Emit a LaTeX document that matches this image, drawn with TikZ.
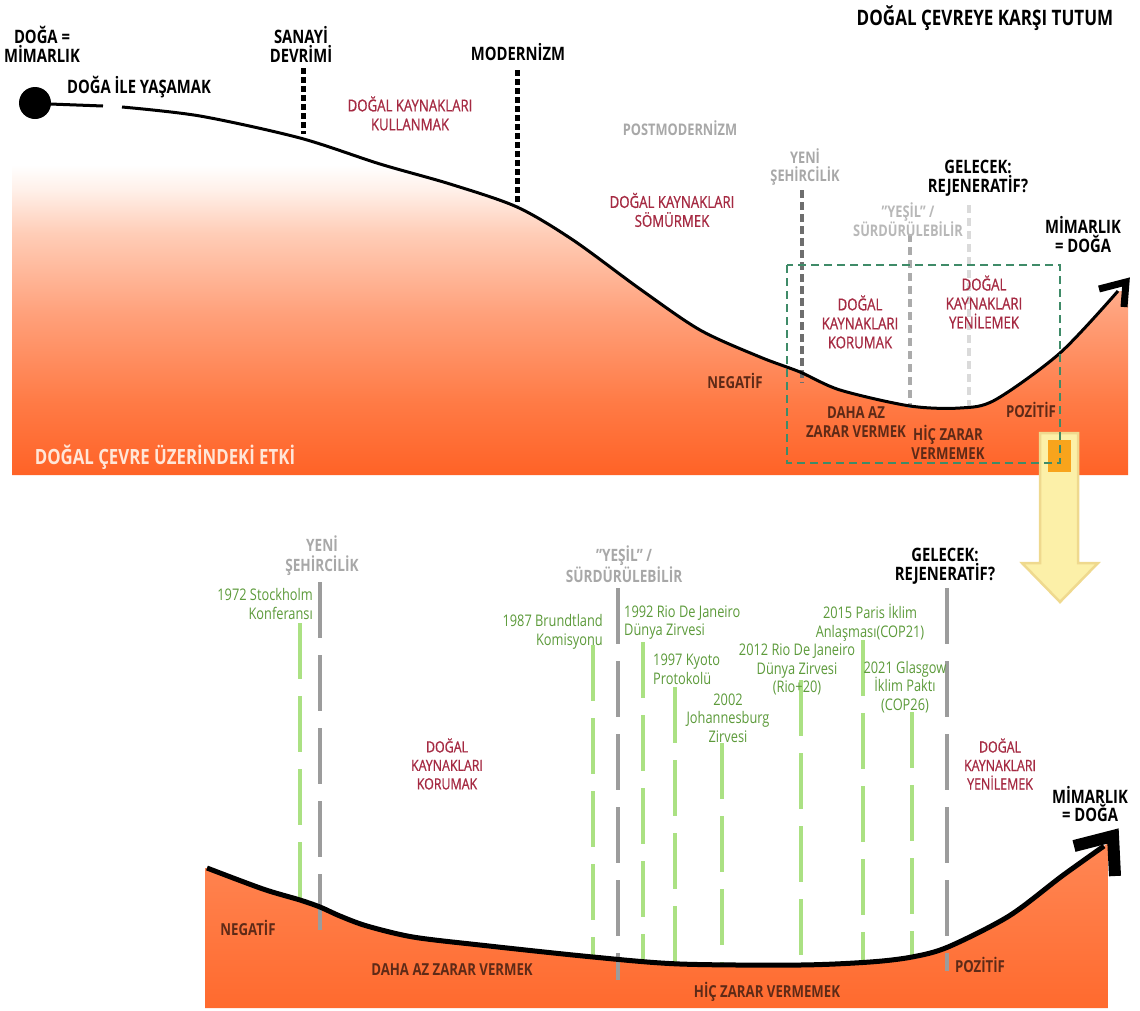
\documentclass[tikz,border=0pt]{standalone}
\usepackage{fontspec}
\setmainfont[FakeStretch=0.8]{Open Sans}
\newfontfamily\semib[FakeStretch=0.8,FakeBold=0.8]{Open Sans}
\usetikzlibrary{calc}
\definecolor{redt}{HTML}{A52A42}
\definecolor{greyt}{HTML}{A8A8A8}
\definecolor{greyl}{HTML}{B8B8B8}
\definecolor{greent}{HTML}{5C9A3A}
\definecolor{greenl}{HTML}{ABE183}
\definecolor{brownt}{HTML}{5E2A17}
\definecolor{boxg}{HTML}{3F8B68}
\definecolor{or1}{HTML}{FF6226}
\definecolor{or2}{HTML}{FF7B46}
\definecolor{or3}{HTML}{FFA07A}
\definecolor{or4}{HTML}{FFCDB7}
\definecolor{or5}{HTML}{FFF0E9}
\definecolor{obot}{HTML}{FF6A2E}
\definecolor{otop}{HTML}{FF8755}
\definecolor{ylfill}{HTML}{FCF0A8}
\definecolor{yldraw}{HTML}{EFD98E}
\definecolor{ylin}{HTML}{F8A41C}
\definecolor{dgrey}{HTML}{6E6E6E}
\definecolor{mgrey}{HTML}{9C9C9C}
\definecolor{lgrey}{HTML}{DADADA}
\definecolor{etkit}{HTML}{FFE6D8}
\pgfdeclareverticalshading{topfade}{100bp}{color(0bp)=(or1); color(25bp)=(or1); color(37bp)=(or2); color(51bp)=(or3); color(64bp)=(or4); color(71bp)=(or5); color(75bp)=(white); color(100bp)=(white)}
\newcommand\fz[2]{\fontsize{#1}{#2}\selectfont}
\begin{document}
\begin{tikzpicture}[x=1pt,y=-1pt,
  every node/.style={inner sep=0pt, align=center},
  blk/.style={font=\bfseries\fz{18.5}{19}, text=black},
  redl/.style={font=\semib\fz{16.5}{19}, text=redt},
  greyb/.style={font=\bfseries\fz{16}{18}, text=greyt},
  grn/.style={font=\fz{16}{18.7}, text=greent},
  brn/.style={font=\bfseries\fz{16.5}{19}, text=brownt},
  dotblk/.style={line width=5pt, dash pattern=on 5.5pt off 3.5pt},
  gdash/.style={line width=4.5pt, mgrey, dash pattern=on 56pt off 17pt},
  grline/.style={line width=3.5pt, greenl, dash pattern=on 56pt off 17pt},
  crv/.style={line width=3pt, line join=round},
  chev/.style={line width=7pt, miter limit=10},
]
\useasboundingbox (0,0) rectangle (1140,1010);

% ================= TOP PANEL =================
\begin{scope}
\clip (12,107) -- plot[smooth] coordinates {(122,107) (200,116) (300,138) (380,164) (450,184) (517,207) (573,240) (640,289) (700,330) (760,357) (800,372) (840,390) (910,406) (960,408) (995,400) (1060,353) (1118,291)} -- (1128,291) -- (1128,475) -- (12,475) -- cycle;
\shade[shading=topfade] (10,165) rectangle (1130,476);
\end{scope}

% vertical markers (top)
\coordinate (sA) at (303,68);  \coordinate (sB) at (303,134);
\coordinate (mA) at (517,70);  \coordinate (mB) at (517,205);
\coordinate (yA) at (802,190); \coordinate (yB) at (802,383);
\coordinate (gA) at (910,234); \coordinate (gB) at (910,408);
\coordinate (fA) at (969,205); \coordinate (fB) at (969,406);
\draw[dotblk] (sA) -- (sB);
\draw[dotblk] (mA) -- (mB);
\draw[dgrey, line width=4pt, dash pattern=on 8pt off 4pt] (yA) -- (yB);
\draw[mgrey!85, line width=3.5pt, dash pattern=on 8pt off 5pt] (gA) -- (gB);
\draw[lgrey, line width=3.5pt, dash pattern=on 8pt off 5pt] (fA) -- (fB);

% curve (top)
\fill (35,103) circle (16);
\coordinate (d0) at (50,104); \coordinate (d1) at (103,106);
\draw[crv] (d0) -- (d1);
\draw[crv] plot[smooth] coordinates {(122,107) (200,116) (300,138) (380,164) (450,184) (517,207) (573,240) (640,289) (700,330) (760,357) (800,372) (840,390) (910,406) (960,408) (995,400) (1060,353) (1118,291)};
\draw[chev] (1099,289) -- (1126,282) -- (1124,307);

% yellow arrow
\filldraw[fill=ylfill, draw=yldraw, line width=2.5pt] (1040,433) -- (1040,563) -- (1022,563) -- (1060,602) -- (1098,563) -- (1078,563) -- (1078,433) -- cycle;
\fill[ylin] (1048,440) rectangle (1071,472);

% green dashed box
\draw[boxg, line width=2.5pt, dash pattern=on 8pt off 5pt] (787,265) rectangle (1060,463);

% top labels
\node[blk] (t_dm) at (42,44.5) {DOĞA =\\MİMARLIK};
\node[blk] (t_yasam) at (139,87) {DOĞA İLE YAŞAMAK};
\node[blk] (t_sanayi) at (301,44.5) {SANAYİ\\DEVRİMİ};
\node[redl] (t_kull) at (410,113.5) {DOĞAL KAYNAKLARI\\KULLANMAK};
\node[blk] (t_mod) at (518,52) {MODERNİZM};
\node[greyb] (t_post) at (680,128) {POSTMODERNİZM};
\node[redl] (t_som) at (672,210) {DOĞAL KAYNAKLARI\\SÖMÜRMEK};
\node[blk, font=\bfseries\fz{21.3}{22}] (t_title) at (985,18) {DOĞAL ÇEVREYE KARŞI TUTUM};
\node[greyb] (t_yeni) at (805,167) {YENİ\\ŞEHİRCİLİK};
\node[blk] (t_gel) at (978,178) {GELECEK:\\REJENERATİF?};
\node[greyb, text=greyl] (t_yesil) at (908,219.5) {"YEŞİL" /\\SÜRDÜRÜLEBİLİR};
\node[blk] (t_mim) at (1083,235) {MİMARLIK\\= DOĞA};
\node[redl] (t_kor) at (860,322) {DOĞAL\\KAYNAKLARI\\KORUMAK};
\node[redl] (t_yen) at (984,302) {DOĞAL\\KAYNAKLARI\\YENİLEMEK};
\node[brn] (t_neg) at (735,381) {NEGATİF};
\node[brn] (t_daha) at (856,422.5) {DAHA AZ\\ZARAR VERMEK};
\node[brn] (t_hic) at (948,442) {HİÇ ZARAR\\VERMEMEK};
\node[brn] (t_poz) at (1031,410) {POZİTİF};
\node[font=\bfseries\fz{21}{22}, text=etkit] (t_etki) at (165,457) {DOĞAL ÇEVRE ÜZERİNDEKİ ETKİ};

% ================= BOTTOM PANEL =================
\shade[top color=otop, bottom color=obot] (205,868) -- plot[smooth] coordinates {(207,868) (263,889) (300,900) (320,907) (340,916) (367,926) (413,937) (480,945) (593,957) (680,964) (800,965) (870,962) (912,957) (948,947) (1009,916) (1062,876) (1104,846)} -- (1108,843) -- (1108,1008) -- (205,1008) -- cycle;

% gray era lines
\coordinate (g1a) at (320,582); \coordinate (g1b) at (320,932);
\coordinate (g2a) at (618,588); \coordinate (g2b) at (618,980);
\coordinate (g3a) at (947,588); \coordinate (g3b) at (947,971);
\draw[gdash] (g1a) -- (g1b);
\draw[gdash] (g2a) -- (g2b);
\draw[gdash] (g3a) -- (g3b);

% green event lines
\coordinate (e1a) at (300,623); \coordinate (e1b) at (300,900);
\coordinate (e2a) at (593,645); \coordinate (e2b) at (593,957);
\coordinate (e3a) at (643,642); \coordinate (e3b) at (643,960);
\coordinate (e4a) at (675,687); \coordinate (e4b) at (675,963);
\coordinate (e5a) at (722,743); \coordinate (e5b) at (722,964);
\coordinate (e6a) at (801,680); \coordinate (e6b) at (801,965);
\coordinate (e7a) at (863,640); \coordinate (e7b) at (863,961);
\coordinate (e8a) at (912,712); \coordinate (e8b) at (912,957);
\foreach \i in {1,...,8} {\draw[grline] (e\i a) -- (e\i b);}

% curve (bottom)
\draw[crv, line width=5pt] plot[smooth] coordinates {(207,868) (263,889) (300,900) (320,907) (340,916) (367,926) (413,937) (480,945) (593,957) (680,964) (800,965) (870,962) (912,957) (948,947) (1009,916) (1062,876) (1104,846)};
\draw[chev, line width=12pt] (1074,846) -- (1113,836) -- (1115,876);

% bottom labels
\node[greyb, font=\bfseries\fz{17}{20}] (b_yeni) at (322,556) {YENİ\\ŞEHİRCİLİK};
\node[greyb, font=\bfseries\fz{17}{18}] (b_yesil) at (624,564) {"YEŞİL" /\\SÜRDÜRÜLEBİLİR};
\node[blk] (b_gel) at (945,566) {GELECEK:\\REJENERATİF?};
\node[grn, align=right, anchor=east] (b_1972) at (313,604) {1972 Stockholm\\Konferansı};
\node[grn, align=right, anchor=east] (b_1987) at (603,631.5) {1987 Brundtland\\Komisyonu};
\node[grn, align=left, anchor=west] (b_1992) at (624,622.5) {1992 Rio De Janeiro\\Dünya Zirvesi};
\node[grn, align=left, anchor=west] (b_1997) at (653,669.5) {1997 Kyoto\\Protokolü};
\node[grn] (b_2002) at (728,718) {2002\\Johannesburg\\Zirvesi};
\node[grn] (b_2012) at (797,669.5) {2012 Rio De Janeiro\\Dünya Zirvesi\\(Rio+20)};
\node[grn] (b_2015) at (870,622.5) {2015 Paris İklim\\Anlaşması(COP21)};
\node[grn] (b_2021) at (905,687) {2021 Glasgow\\İklim Paktı\\(COP26)};
\node[redl, font=\semib\fz{15.5}{18.5}] (b_kor) at (447,764) {DOĞAL\\KAYNAKLARI\\KORUMAK};
\node[redl, font=\semib\fz{15.5}{18.5}] (b_yen) at (1000,764) {DOĞAL\\KAYNAKLARI\\YENİLEMEK};
\node[blk, font=\bfseries\fz{18.5}{18}] (b_mim) at (1090,804) {MİMARLIK\\= DOĞA};
\node[brn] (b_neg) at (248,928) {NEGATİF};
\node[brn] (b_daha) at (452,970) {DAHA AZ ZARAR VERMEK};
\node[brn] (b_hic) at (767,992) {HİÇ ZARAR VERMEMEK};
\node[brn] (b_poz) at (980,965) {POZİTİF};
\end{tikzpicture}
\end{document}
